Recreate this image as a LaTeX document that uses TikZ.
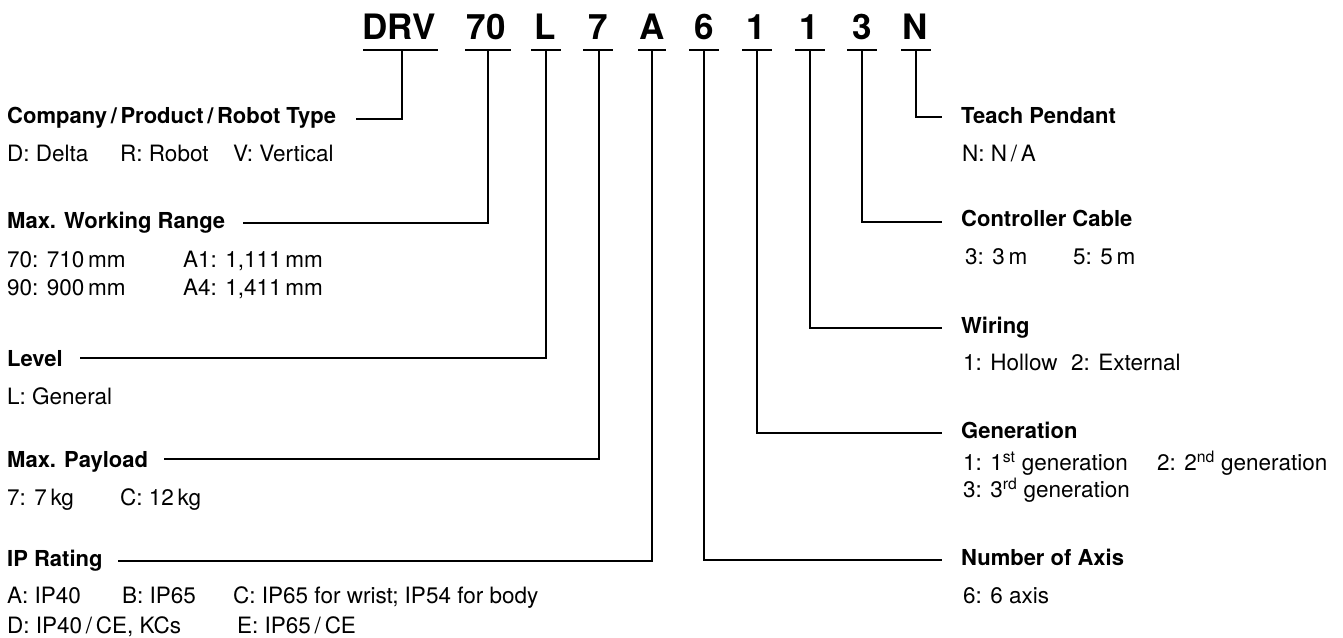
\documentclass[tikz,border=0pt]{standalone}
\usepackage{fontspec}
\setmainfont{TeX Gyre Heros}
\begin{document}
\begin{tikzpicture}[x=1pt,y=-1pt,
  code/.style={font=\fontsize{35}{40}\selectfont\bfseries, anchor=base, inner sep=0pt},
  head/.style={font=\fontsize{22}{26}\selectfont\bfseries, anchor=base west, inner sep=0pt},
  val/.style={font=\fontsize{22.5}{26}\selectfont, anchor=base west, inner sep=0pt},
  uline/.style={line width=2.7pt},
  conn/.style={line width=2.2pt}]
\useasboundingbox (0,0) rectangle (1343,637);

% code characters
\node[code] (cDRV) at (399,39) {DRV};
\node[code] (c70)  at (486,39) {70};
\node[code] (cL)   at (545,39) {L};
\node[code] (c7)   at (598,39) {7};
\node[code] (cA)   at (652,39) {A};
\node[code] (c6)   at (704,39) {6};
\node[code] (c1a)  at (756,39) {1};
\node[code] (c1b)  at (809,39) {1};
\node[code] (c3)   at (862,39) {3};
\node[code] (cN)   at (915,39) {N};

% underlines
\draw[uline] (363,50) -- (438,50);
\draw[uline] (465,50) -- (511,50);
\draw[uline] (531,50) -- (561,50);
\draw[uline] (583,50) -- (613,50);
\draw[uline] (638,50) -- (666,50);
\draw[uline] (689,50) -- (719,50);
\draw[uline] (742,50) -- (772,50);
\draw[uline] (795,50) -- (825,50);
\draw[uline] (847,50) -- (877,50);
\draw[uline] (901,50) -- (931,50);

% connector start points
\coordinate (u1) at (402,50);
\coordinate (u2) at (488,50);
\coordinate (u3) at (546,50);
\coordinate (u4) at (599,50);
\coordinate (u5) at (652,50);
\coordinate (u6) at (916,50);
\coordinate (u7) at (862,50);
\coordinate (u8) at (810,50);
\coordinate (u9) at (757,50);
\coordinate (u10) at (704,50);

% connector end points
\coordinate (e1) at (356,119);
\coordinate (e2) at (243,223);
\coordinate (e3) at (80,358);
\coordinate (e4) at (164,459);
\coordinate (e5) at (118,561);
\coordinate (e6) at (942,117);
\coordinate (e7) at (942,222);
\coordinate (e8) at (942,328);
\coordinate (e9) at (942,433);
\coordinate (e10) at (942,560);

% left side
\node[head] (h1) at (7,123) {Company\,/\,Product\,/\,Robot Type};
\node[val] (v1a) at (7,161) {D: Delta};
\node[val] (v1b) at (120,161) {R: Robot};
\node[val] (v1c) at (233,161) {V: Vertical};

\node[head] (h2) at (7,228) {Max. Working Range};
\node[val] (v2a) at (7,267) {70: 710\,mm};
\node[val] (v2b) at (183,267) {A1: 1,111\,mm};
\node[val] (v2c) at (7,295) {90: 900\,mm};
\node[val] (v2d) at (183,295) {A4: 1,411\,mm};

\node[head] (h3) at (7,366) {Level};
\node[val] (v3a) at (7,404) {L: General};

\node[head] (h4) at (7,467) {Max. Payload};
\node[val] (v4a) at (7,505) {7: 7\,kg};
\node[val] (v4b) at (120,505) {C: 12\,kg};

\node[head] (h5) at (7,566) {IP Rating};
\node[val] (v5a) at (7,603) {A: IP40};
\node[val] (v5b) at (122,603) {B: IP65};
\node[val] (v5c) at (233,603) {C: IP65 for wrist; IP54 for body};
\node[val] (v5d) at (7,633) {D: IP40\,/\,CE, KCs};
\node[val] (v5e) at (237,633) {E: IP65\,/\,CE};

% right side
\node[head] (h6) at (961,123) {Teach Pendant};
\node[val] (v6a) at (962,161) {N: N\,/\,A};

\node[head] (h7) at (961,226) {Controller Cable};
\node[val] (v7a) at (965,264) {3: 3\,m};
\node[val] (v7b) at (1073,264) {5: 5\,m};

\node[head] (h8) at (961,333) {Wiring};
\node[val] (v8a) at (963,370) {1: Hollow};
\node[val] (v8b) at (1071,370) {2: External};

\node[head] (h9) at (961,438) {Generation};
\node[val] (v9a) at (963,470) {1: 1\textsuperscript{st} generation};
\node[val] (v9b) at (1157,470) {2: 2\textsuperscript{nd} generation};
\node[val] (v9c) at (963,497) {3: 3\textsuperscript{rd} generation};

\node[head] (h10) at (961,565) {Number of Axis};
\node[val] (v10a) at (963,603) {6: 6 axis};

% connectors
\draw[conn] (u1) |- (e1);
\draw[conn] (u2) |- (e2);
\draw[conn] (u3) |- (e3);
\draw[conn] (u4) |- (e4);
\draw[conn] (u5) |- (e5);
\draw[conn] (u6) |- (e6);
\draw[conn] (u7) |- (e7);
\draw[conn] (u8) |- (e8);
\draw[conn] (u9) |- (e9);
\draw[conn] (u10) |- (e10);
\end{tikzpicture}
\end{document}
